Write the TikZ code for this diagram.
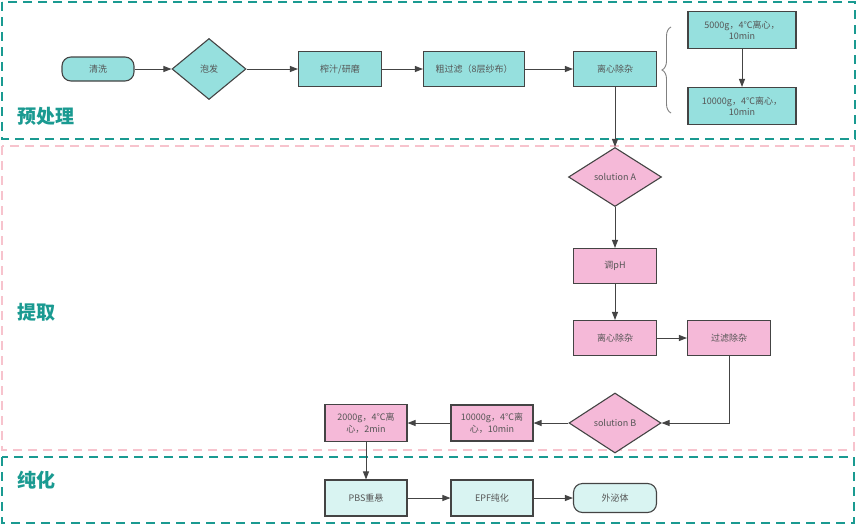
\documentclass[tikz,border=0pt]{standalone}
\usepackage{fontspec}
\setmainfont{Noto Sans CJK SC}
\usetikzlibrary{shapes.geometric,arrows.meta,decorations.pathreplacing}
\definecolor{tealfr}{HTML}{1A9A91}
\definecolor{pinkfr}{HTML}{F7C3CD}
\definecolor{tealfill}{HTML}{96E0DE}
\definecolor{pinkfill}{HTML}{F5B9D8}
\definecolor{lightfill}{HTML}{D9F4F2}
\definecolor{edgec}{HTML}{444444}
\definecolor{txtc}{HTML}{555555}
\begin{document}
\begin{tikzpicture}[x=1pt,y=-1pt,
  box/.style={draw=edgec,line width=1.1pt,rectangle,minimum width=83pt,minimum height=35pt,inner sep=1pt,align=center,font=\fontsize{9}{11.5}\selectfont,text=txtc},
  dia/.style={draw=edgec,line width=1.1pt,diamond,inner sep=0pt,align=center,font=\fontsize{9}{11.5}\selectfont,text=txtc},
  term/.style={draw=edgec,line width=1.1pt,rectangle,rounded corners=9pt,align=center,font=\fontsize{9}{11.5}\selectfont,text=txtc},
  tealb/.style={fill=tealfill},
  pinkb/.style={fill=pinkfill},
  lightb/.style={fill=lightfill},
  conn/.style={draw=edgec,line width=0.9pt,-{Triangle[length=8pt,width=6pt]}},
  framet/.style={draw=tealfr,line width=2.4pt,dash pattern=on 9pt off 6pt},
  framep/.style={draw=pinkfr,line width=2pt,dash pattern=on 9pt off 6pt},
  stage/.style={font=\fontsize{19}{22}\selectfont\bfseries,text=tealfr}
]
\useasboundingbox (0,0) rectangle (860,528);
% frames
\draw[framep] (2,146) rectangle (854,450);
\draw[framet] (2,2) rectangle (855,139);
\draw[framet] (2,457) rectangle (854,523);
\node[stage] (lab1) at (46,116) {预处理};
\node[stage] (lab2) at (36,312) {提取};
\node[stage] (lab3) at (36,480) {纯化};
% stage 1
\node[term,tealb,minimum width=72pt,minimum height=24pt] (qx) at (98,69) {清洗};
\node[dia,tealb,minimum width=74pt,minimum height=61pt] (pf) at (209,69) {泡发};
\node[box,tealb] (zz) at (340,69) {榨汁/研磨};
\node[box,tealb,minimum width=101pt] (cg) at (474,69) {粗过滤（8层纱布）};
\node[box,tealb] (lx) at (615,69) {离心除杂};
\node[box,tealb,minimum width=108pt,minimum height=37pt] (c1) at (742,30) {5000g，4℃离心，\\10min};
\node[box,tealb,minimum width=108pt,minimum height=37pt] (c2) at (742,106) {10000g，4℃离心，\\10min};
\coordinate (br1) at (671,113);
\coordinate (br2) at (671,27);
\draw[draw=gray,line width=0.9pt,decorate,decoration={brace,amplitude=9pt}] (br1) -- (br2);
% stage 2
\node[dia,pinkb,minimum width=93pt,minimum height=59pt] (sa) at (615,177) {solution A};
\node[box,pinkb] (ph) at (615,266) {调pH};
\node[box,pinkb] (lx2) at (615,338) {离心除杂};
\node[box,pinkb] (gl) at (729,338) {过滤除杂};
\node[dia,pinkb,minimum width=92pt,minimum height=60pt] (sb) at (615,423) {solution B};
\node[box,pinkb,minimum width=82pt,minimum height=36pt] (p10) at (492,423) {10000g，4℃离\\心，10min};
\node[box,pinkb,minimum width=82pt,minimum height=37pt] (p2) at (366,423) {2000g，4℃离\\心，2min};
% stage 3
\node[box,lightb,minimum width=82pt,minimum height=36pt] (pbs) at (366,498) {PBS重悬};
\node[box,lightb,minimum width=82pt,minimum height=36pt] (epf) at (492,498) {EPF纯化};
\node[term,lightb,minimum width=83pt,minimum height=29pt] (wmt) at (615,498) {外泌体};
% connectors
\draw[conn] (qx.east) -- (pf.west);
\draw[conn] (pf.east) -- (zz.west);
\draw[conn] (zz.east) -- (cg.west);
\draw[conn] (cg.east) -- (lx.west);
\draw[conn] (c1.south) -- (c2.north);
\draw[conn] (lx.south) -- (sa.north);
\draw[conn] (sa.south) -- (ph.north);
\draw[conn] (ph.south) -- (lx2.north);
\draw[conn] (lx2.east) -- (gl.west);
\draw[conn] (gl.south) |- (sb.east);
\draw[conn] (sb.west) -- (p10.east);
\draw[conn] (p10.west) -- (p2.east);
\draw[conn] (p2.south) -- (pbs.north);
\draw[conn] (pbs.east) -- (epf.west);
\draw[conn] (epf.east) -- (wmt.west);
\end{tikzpicture}
\end{document}
